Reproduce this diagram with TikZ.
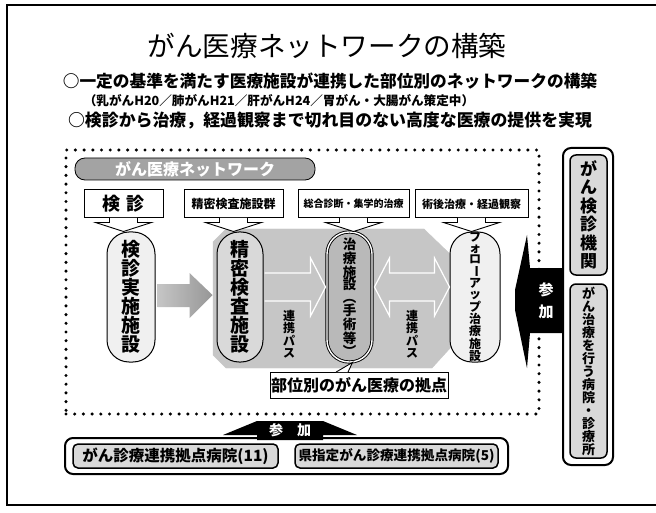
\documentclass[tikz,border=0pt]{standalone}
\usepackage{fontspec}
\setmainfont{Noto Sans CJK JP}
\usetikzlibrary{calc}
\tikzset{
  plain/.style={inner sep=0pt},
  hdr/.style={draw, line width=1pt, fill=white, minimum height=28, inner sep=1pt, font=\bfseries\fontsize{11}{11}\selectfont},
  pill/.style={draw, line width=1pt, minimum height=130, rounded corners=22, inner sep=0pt, align=center},
  vt19/.style={font=\bfseries\fontsize{19}{19}\selectfont},
  dotbox/.style={draw, line width=3.4pt, dash pattern=on 0pt off 8.7pt, line cap=round, inner sep=0pt},
  banner/.style={fill=gray!72, draw=black, line width=0.8pt, rounded corners=10, minimum width=240, minimum height=22, text=white, font=\bfseries\fontsize{16}{16}\selectfont, inner sep=0pt},
  octfill/.style={fill=gray!45, draw=gray!45},
  linkarrow/.style={draw=white, line width=1.2pt, fill=gray!45, line join=miter},
  linklbl/.style={inner sep=0pt, align=center, font=\bfseries\fontsize{12}{12.5}\selectfont},
  lbl/.style={draw, line width=1pt, fill=white, minimum width=178, minimum height=26, inner sep=0pt, font=\bfseries\fontsize{16}{16}\selectfont},
  colout/.style={draw, line width=2pt, rounded corners=8, minimum width=50, inner sep=0pt},
  colin/.style={draw, line width=1.5pt, fill=gray!30, rounded corners=6, minimum width=37, inner sep=0pt, align=center},
  botin/.style={draw, line width=1.5pt, fill=gray!30, rounded corners=5, minimum height=24, inner sep=0pt},
  sankafill/.style={fill=black},
  sankatext/.style={text=white, inner sep=0pt, align=center, font=\bfseries\fontsize{15}{22}\selectfont},
  ptr/.style={fill=white, draw=black, line width=0.9pt, line join=miter}
}
\newcommand\mypointer[1]{%
  \filldraw[ptr] ($(#1.south)+(-14,-0.6)$) -- ($(#1.south)+(-14,4)$) -- ($(#1.south)+(-28,4)$) -- ($(#1.south)+(0,13)$) -- ($(#1.south)+(28,4)$) -- ($(#1.south)+(14,4)$) -- ($(#1.south)+(14,-0.6)$);%
}
\begin{document}
\begin{tikzpicture}[x=1pt,y=-1pt]
\useasboundingbox (0,0) rectangle (656,513);
\fill[white] (0,0) rectangle (656,513);
\draw[line width=1.2pt] (656,5) -- (7,5) -- (7,505) -- (656,505);

% titles
\node[plain, font=\fontsize{27.6}{27}\selectfont] (title) at (327,46) {がん医療ネットワークの構築};
\node[plain, font=\bfseries\fontsize{16.7}{17}\selectfont] (sub1) at (330,81) {○一定の基準を満たす医療施設が連携した部位別のネットワークの構築};
\node[plain, font=\bfseries\fontsize{12.6}{12}\selectfont] (sub2) at (279,101) {（乳がんH20／肺がんH21／肝がんH24／胃がん・大腸がん策定中）};
\node[plain, font=\bfseries\fontsize{16.9}{17}\selectfont] (sub3) at (330,121) {○検診から治療，経過観察まで切れ目のない高度な医療の提供を実現};

% dotted network frame
\node[dotbox, minimum width=473, minimum height=264] (net) at (302.5,282) {};
\node[banner] (banner) at (195,169) {がん医療ネットワーク};

% grey base behind the core facilities
\filldraw[octfill] (213,242) -- (226,229) -- (424,229) -- (452,256) -- (452,346) -- (432,368) -- (226,368) -- (213,355) -- cycle;

% facility pills
\node[pill, fill=gray!12, minimum width=48, vt19] (p1) at (131,297) {検\\診\\実\\施\\施\\設};
\node[pill, fill=gray!30, minimum width=46, vt19] (p2) at (240,297) {精\\密\\検\\査\\施\\設};
\node[pill, fill=gray!55, minimum width=45, double=white, double distance=1.4pt, line width=0.9pt, font=\bfseries\fontsize{13.5}{12.6}\selectfont] (p3) at (349.5,297) {治\\療\\施\\設\\︵\\手\\術\\等\\︶};
\node[pill, fill=gray!12, minimum width=50, font=\bfseries\fontsize{12}{11}\selectfont] (p4) at (475,297) {フ\\ォ\\ロ\\\rotatebox[origin=c]{-90}{ー}\\ア\\ッ\\プ\\治\\療\\施\\設};

% link arrows
\filldraw[linkarrow] ($(p2.east)+(1,4)$) -- ($(p3.west)+(-16,4)$) -- ($(p3.west)+(-16,19)$) -- ($(p3.west)+(-1,-10)$) -- ($(p3.west)+(-16,-39)$) -- ($(p3.west)+(-16,-24)$) -- ($(p2.east)+(1,-24)$);
\filldraw[linkarrow] ($(p3.east)+(2,-10)$) -- ($(p3.east)+(17,-39)$) -- ($(p3.east)+(17,-24)$) -- ($(p4.west)+(-15,-24)$) -- ($(p4.west)+(-15,-39)$) -- ($(p4.west)+(0,-10)$) -- ($(p4.west)+(-15,19)$) -- ($(p4.west)+(-15,4)$) -- ($(p3.east)+(17,4)$) -- ($(p3.east)+(17,19)$) -- cycle;
\node[linklbl] (r1) at (289,334) {連\\携\\パ\\ス};
\node[linklbl] (r2) at (412,334) {連\\携\\パ\\ス};

% big arrow from screening to detailed examination
\shade[left color=gray!45, right color=gray!82] ($(p1.east)+(2,-13)$) -- ($(p2.west)+(-27,-13)$) -- ($(p2.west)+(-27,-24)$) -- ($(p2.west)+(-4,-2)$) -- ($(p2.west)+(-27,21)$) -- ($(p2.west)+(-27,10)$) -- ($(p1.east)+(2,10)$) -- cycle;

% header callouts
\node[hdr, minimum width=79, font=\bfseries\fontsize{18}{18}\selectfont] (h1) at (123.5,204) {検\hspace{6pt}診};
\node[hdr, minimum width=99, font=\bfseries\fontsize{12}{12}\selectfont] (h2) at (233.5,204) {精密検査施設群};
\node[hdr, minimum width=111, font=\bfseries\fontsize{10}{10}\selectfont] (h3) at (353.5,204) {総合診断・集学的治療};
\node[hdr, minimum width=113, font=\bfseries\fontsize{11}{11}\selectfont] (h4) at (471.5,204) {術後治療・経過観察};
\mypointer{h1}
\mypointer{h2}
\mypointer{h3}
\mypointer{h4}

% label of core hospitals
\node[lbl] (lbl) at (359,385) {部位別のがん医療の拠点};
\filldraw[ptr] ($(lbl.north)+(-23,0.6)$) -- ($(p3.south)+(3,0)$) -- ($(lbl.north)+(-11,0.6)$);

% right column
\node[colout, minimum height=317] (col) at (588,306.5) {};
\node[colin, minimum height=120, font=\bfseries\fontsize{17}{18.5}\selectfont] (cA) at (588.5,215) {が\\ん\\検\\診\\機\\関};
\node[colin, minimum height=174, font=\bfseries\fontsize{13}{13}\selectfont] (cB) at (588.5,371) {が\\ん\\治\\療\\を\\行\\う\\病\\院\\・\\診\\療\\所};
\fill[sankafill] ($(col.west)+(0,-38.5)$) -- ($(col.west)+(-32,-38.5)$) -- ($(col.west)+(-35,-71.5)$) -- ($(col.west)+(-47,-16.5)$) -- ($(col.west)+(-47,3.5)$) -- ($(col.west)+(-35,61.5)$) -- ($(col.west)+(-32,26.5)$) -- ($(col.west)+(0,26.5)$) -- cycle;
\node[sankatext] (s1) at (546,301) {参\\加};

% bottom row
\node[colout, minimum width=443, minimum height=36] (bot) at (286.5,456) {};
\node[botin, minimum width=205, font=\bfseries\fontsize{15.5}{15.5}\selectfont] (b1) at (175.5,456) {がん診療連携拠点病院(11)};
\node[botin, minimum width=203, font=\bfseries\fontsize{13.6}{13.6}\selectfont] (b2) at (396.5,456) {県指定がん診療連携拠点病院(5)};
\fill[sankafill] ($(bot.north)+(-29.5,3)$) -- ($(bot.north)+(-29.5,-2)$) -- ($(bot.north)+(-63.5,-2)$) -- ($(bot.north)+(-29.5,-16)$) -- ($(bot.north)+(36.5,-16)$) -- ($(bot.north)+(70.5,-2)$) -- ($(bot.north)+(36.5,-2)$) -- ($(bot.north)+(36.5,3)$) -- cycle;
\node[sankatext, font=\bfseries\fontsize{14}{14}\selectfont] (s2) at (290,430) {参\hspace{14pt}加};
\end{tikzpicture}
\end{document}
